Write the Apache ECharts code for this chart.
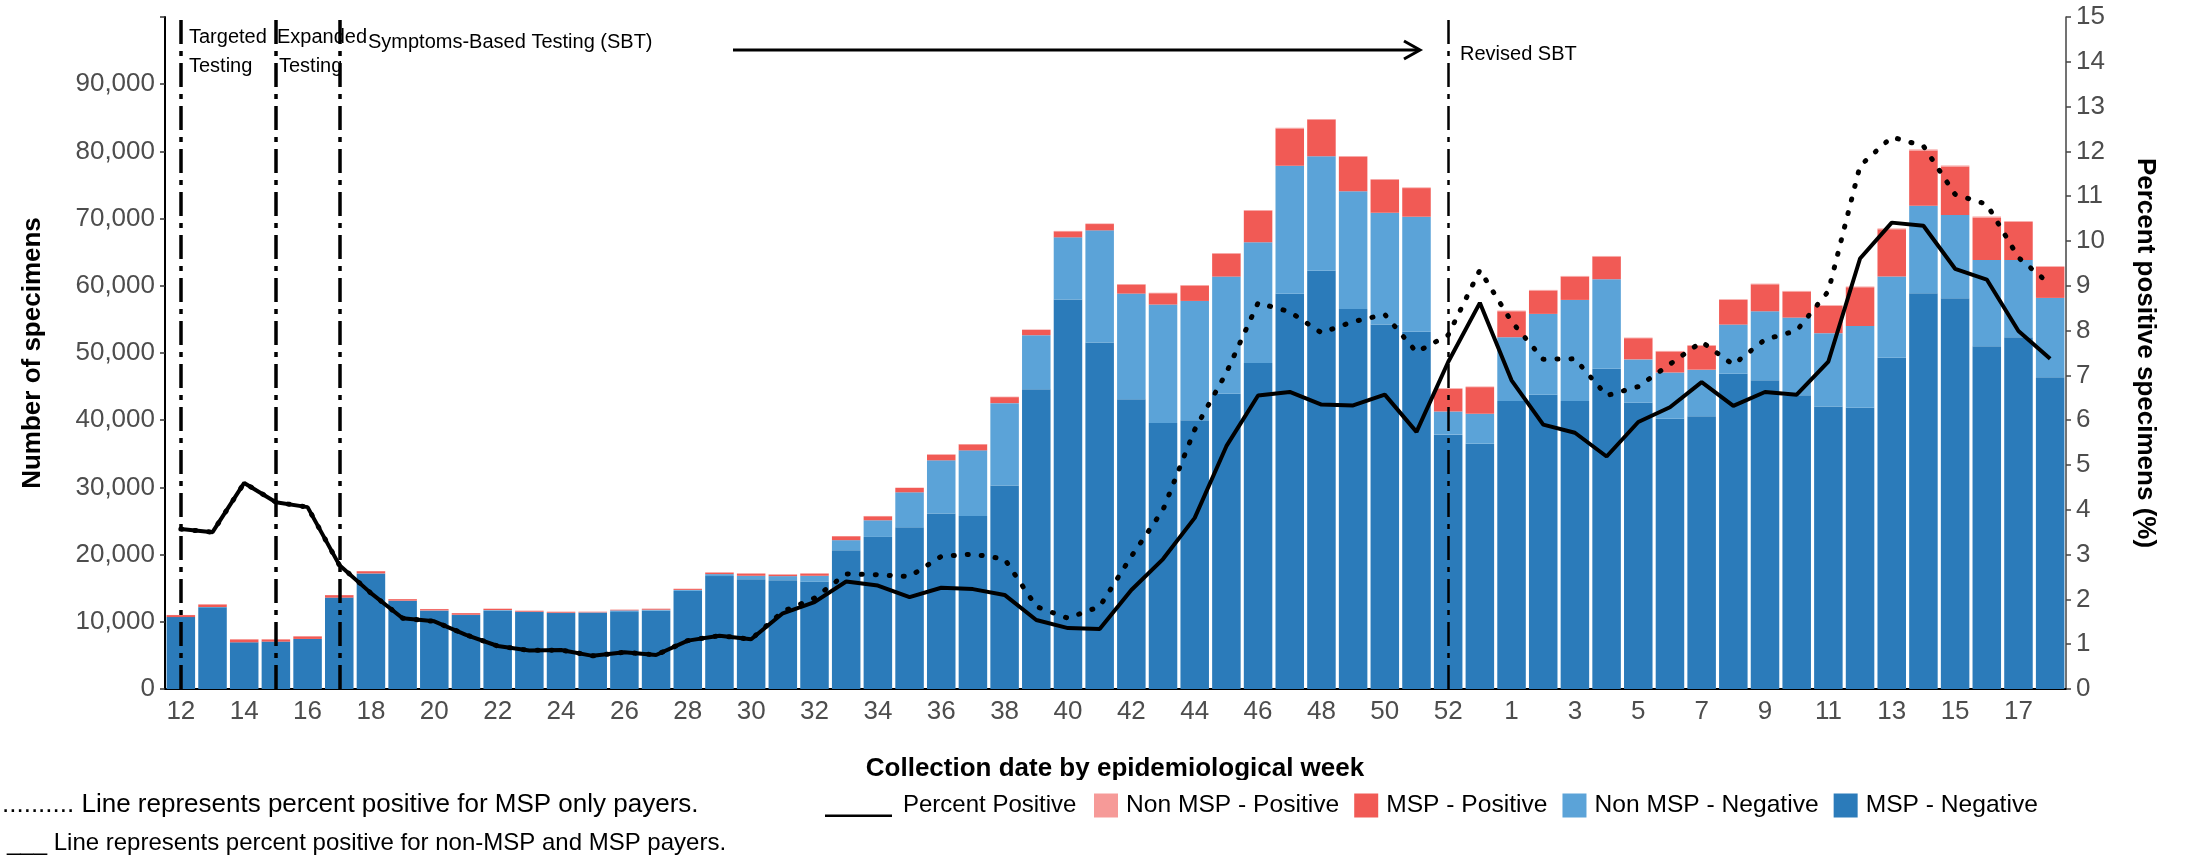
<!DOCTYPE html>
<html>
<head>
<meta charset="utf-8">
<script src="https://cdn.jsdelivr.net/npm/echarts@6/dist/echarts.min.js"></script>
<style>
  html, body { margin: 0; padding: 0; background: #fff; }
  #chart { width: 2185px; height: 860px; }
</style>
</head>
<body>
<div id="chart"></div>
<script>
// epi weeks: 2020 wk12..wk53, then 2021 wk1..wk18
const weeks2020 = [12, 13, 14, 15, 16, 17, 18, 19, 20, 21, 22, 23, 24, 25, 26, 27, 28, 29, 30, 31,
  32, 33, 34, 35, 36, 37, 38, 39, 40, 41, 42, 43, 44, 45, 46, 47, 48, 49, 50, 51, 52, 53];
const weeks2021 = [1, 2, 3, 4, 5, 6, 7, 8, 9, 10, 11, 12, 13, 14, 15, 16, 17, 18];

// stacked bars (number of specimens)
const mspNegative = [10700, 12150, 6950, 7050, 7450, 13600, 17200, 13100, 11650, 11000,
  11700, 11450, 11300, 11350, 11450, 11700, 14600, 16800, 16350, 16200,
  15950, 20650, 22630, 24070, 26100, 25750, 30300, 44600, 57950, 51550,
  43100, 39600, 40000, 43950, 48500, 58800, 62250, 56550, 54250, 53150,
  37850, 36500, 42850, 43800, 42850, 47650, 42600, 40200, 40600, 46900,
  45950, 43700, 42050, 41850, 49300, 58900, 58150, 51000, 52350, 46400];
const nonMspNegative = [0, 50, 0, 0, 0, 0, 0, 50, 50, 50,
  50, 50, 50, 50, 250, 100, 150, 300, 500, 600,
  900, 1500, 2480, 5200, 7930, 9760, 12240, 8050, 9260, 16700,
  15740, 17610, 17750, 17420, 17970, 19060, 17040, 17510, 16620, 17130,
  3450, 4460, 9500, 12020, 15050, 13330, 6450, 6900, 6920, 7330,
  10260, 11570, 10900, 12180, 12070, 13020, 12370, 12840, 11490, 11800];
const mspPositive = [300, 380, 430, 330, 380, 370, 330, 220, 190, 240,
  190, 140, 140, 90, 90, 140, 150, 230, 330, 230,
  330, 580, 590, 640, 840, 890, 890, 790, 890, 940,
  1340, 1680, 2280, 3410, 4700, 5540, 5410, 5140, 4910, 4260,
  3370, 3960, 3860, 3470, 3470, 3360, 3150, 3120, 3560, 3670,
  4010, 3870, 4060, 5750, 7030, 8220, 7240, 6340, 5650, 4600];
const nonMspPositive = [20, 20, 20, 20, 20, 20, 30, 20, 20, 20,
  20, 20, 20, 20, 30, 20, 30, 30, 30, 30,
  40, 40, 50, 60, 60, 60, 70, 60, 70, 80,
  80, 80, 90, 100, 110, 120, 120, 110, 110, 100,
  90, 90, 100, 100, 100, 100, 90, 90, 90, 100,
  100, 100, 100, 110, 130, 150, 140, 130, 120, 110];

// percent positive (right axis)
const pctAll = [3.57, 3.50, 4.60, 4.17, 4.06, 2.77, 2.14, 1.58, 1.51, 1.21,
  0.96, 0.86, 0.87, 0.74, 0.82, 0.76, 1.08, 1.19, 1.11, 1.69,
  1.94, 2.40, 2.31, 2.05, 2.26, 2.23, 2.10, 1.54, 1.36, 1.34,
  2.21, 2.90, 3.82, 5.42, 6.55, 6.63, 6.35, 6.33, 6.57, 5.74,
  7.30, 8.62, 6.89, 5.90, 5.72, 5.19, 5.96, 6.29, 6.85, 6.32,
  6.63, 6.57, 7.31, 9.61, 10.41, 10.34, 9.38, 9.14, 7.99, 7.37];
const pctMspOnly = [3.57, 3.50, 4.60, 4.17, 4.06, 2.77, 2.14, 1.58, 1.51, 1.21,
  0.96, 0.86, 0.87, 0.74, 0.82, 0.76, 1.08, 1.19, 1.11, 1.73,
  2.03, 2.57, 2.55, 2.51, 2.96, 3.01, 2.90, 1.84, 1.58, 1.84,
  2.96, 4.00, 5.79, 7.06, 8.62, 8.42, 7.95, 8.20, 8.36, 7.52,
  7.90, 9.35, 8.20, 7.36, 7.37, 6.55, 6.75, 7.25, 7.75, 7.24,
  7.80, 8.00, 8.88, 11.68, 12.32, 12.12, 11.04, 10.82, 9.63, 9.03];

// testing phases (start week index)
const phaseLines = [
  { idx: 0, width: 3.5 },   // Targeted Testing, wk12
  { idx: 3, width: 3.5 },   // Expanded Testing, wk15
  { idx: 5, width: 3.5 },   // SBT, wk17
  { idx: 40, width: 2.5 }   // Revised SBT, wk52
];

const categories = weeks2020.map(w => '2020-' + w).concat(weeks2021.map(w => '2021-' + w));

const FONT = '"Liberation Sans", Arial, sans-serif';
const C_DARK = '#2b7bba';
const C_LIGHT = '#5ba3d8';
const C_RED = '#f15a55';
const C_PINK = '#f69a98';

let chart = echarts.init(document.getElementById('chart'));

function barSeries(name, data, color) {
  return {
    name: name,
    type: 'bar',
    stack: 'total',
    data: data,
    barCategoryGap: '10%',
    itemStyle: { color: color },
    emphasis: { disabled: true }
  };
}

const option = {
  animation: false,
  backgroundColor: '#fff',
  textStyle: { fontFamily: FONT },
  grid: { left: 165, right: 119, top: 17, bottom: 171, containLabel: false },
  legend: [
    {
      data: [{ name: 'Percent Positive', icon: 'path://M0,0 M0,21.5 L67,21.5 L67,24 L0,24 Z' }],
      left: 825, top: 793, padding: 0,
      itemWidth: 67, itemHeight: 24,
      selectedMode: false,
      textStyle: { fontSize: 24, color: '#000', fontFamily: FONT, padding: [0, 0, 0, 6] }
    },
    {
      data: ['Non MSP - Positive', 'MSP - Positive', 'Non MSP - Negative', 'MSP - Negative'],
      left: 1094, top: 793, padding: 0,
      icon: 'rect', itemWidth: 24, itemHeight: 24, itemGap: 15,
      selectedMode: false,
      textStyle: { fontSize: 24.6, color: '#000', fontFamily: FONT, padding: [0, 0, 0, 3] }
    }
  ],
  xAxis: {
    type: 'category',
    data: categories,
    boundaryGap: true,
    axisLine: { lineStyle: { color: '#000', width: 2 } },
    axisTick: { interval: 0, alignWithLabel: true, length: 6, lineStyle: { color: '#333', width: 1.5 } },
    axisLabel: {
      interval: 1, margin: 10, fontSize: 26, color: '#4d4d4d', fontFamily: FONT,
      formatter: v => v.split('-')[1]
    },
    splitLine: { show: false }
  },
  yAxis: [
    {
      type: 'value', min: 0, max: 100000, interval: 10000,
      axisLine: { show: true, lineStyle: { color: '#000', width: 2 } },
      axisTick: { show: true, length: 5, lineStyle: { color: '#333', width: 1.5 } },
      axisLabel: {
        margin: 10, fontSize: 26, color: '#4d4d4d', fontFamily: FONT,
        formatter: v => (v >= 100000 ? '' : v.toLocaleString('en-US'))
      },
      splitLine: { show: false }
    },
    {
      type: 'value', min: 0, max: 15, interval: 1, position: 'right',
      axisLine: { show: true, lineStyle: { color: '#444', width: 1.5 } },
      axisTick: { show: true, length: 5, lineStyle: { color: '#444', width: 1.5 } },
      axisLabel: { margin: 10, fontSize: 26, color: '#4d4d4d', fontFamily: FONT },
      splitLine: { show: false }
    }
  ],
  series: [
    barSeries('MSP - Negative', mspNegative, C_DARK),
    barSeries('Non MSP - Negative', nonMspNegative, C_LIGHT),
    barSeries('MSP - Positive', mspPositive, C_RED),
    barSeries('Non MSP - Positive', nonMspPositive, C_PINK),
    {
      name: 'MSP only',
      type: 'line',
      yAxisIndex: 1,
      data: pctMspOnly,
      showSymbol: false,
      z: 5,
      lineStyle: { color: '#000', width: 5, type: [1, 13], cap: 'round' },
      itemStyle: { color: '#000' },
      emphasis: { disabled: true }
    },
    {
      name: 'Percent Positive',
      type: 'line',
      yAxisIndex: 1,
      data: pctAll,
      showSymbol: false,
      z: 6,
      lineStyle: { color: '#000', width: 4 },
      itemStyle: { color: '#000' },
      emphasis: { disabled: true },
      markLine: {
        silent: true,
        symbol: 'none',
        label: { show: false },
        data: phaseLines.map(p => ({
          xAxis: categories[p.idx],
          lineStyle: { color: '#000', width: p.width, type: [24, 7, 5, 7] }
        }))
      }
    }
  ],
  graphic: [
    // axis titles
    { type: 'text', x: 33, y: 353, rotation: Math.PI / 2, z: 50,
      style: { text: 'Number of specimens', fontSize: 26, fontWeight: 'bold', fontFamily: FONT,
        fill: '#000', textAlign: 'center', textVerticalAlign: 'middle' } },
    { type: 'text', x: 2145, y: 353, rotation: -Math.PI / 2, z: 50,
      style: { text: 'Percent positive specimens (%)', fontSize: 26, fontWeight: 'bold', fontFamily: FONT,
        fill: '#000', textAlign: 'center', textVerticalAlign: 'middle' } },
    { type: 'text', x: 1115, y: 769, z: 50,
      style: { text: 'Collection date by epidemiological week', fontSize: 26, fontWeight: 'bold', fontFamily: FONT,
        fill: '#000', textAlign: 'center', textVerticalAlign: 'middle' } },
    // the legend box clips the bottom of the x title in the original
    { type: 'rect', z: 60, shape: { x: 840, y: 780, width: 560, height: 10 }, style: { fill: '#fff' } },

    // phase labels
    { type: 'text', x: 189, y: 37, z: 50, style: { text: 'Targeted', fontSize: 20, fontFamily: FONT, fill: '#000', textVerticalAlign: 'middle' } },
    { type: 'text', x: 189, y: 66, z: 50, style: { text: 'Testing', fontSize: 20, fontFamily: FONT, fill: '#000', textVerticalAlign: 'middle' } },
    { type: 'text', x: 277, y: 37, z: 50, style: { text: 'Expanded', fontSize: 20, fontFamily: FONT, fill: '#000', textVerticalAlign: 'middle' } },
    { type: 'text', x: 279, y: 66, z: 50, style: { text: 'Testing', fontSize: 20, fontFamily: FONT, fill: '#000', textVerticalAlign: 'middle' } },
    { type: 'text', x: 368, y: 42, z: 50, style: { text: 'Symptoms-Based Testing (SBT)', fontSize: 20, fontFamily: FONT, fill: '#000', textVerticalAlign: 'middle' } },
    { type: 'text', x: 1460, y: 54, z: 50, style: { text: 'Revised SBT', fontSize: 20, fontFamily: FONT, fill: '#000', textVerticalAlign: 'middle' } },
    // arrow
    { type: 'polyline', z: 50, shape: { points: [[733, 50], [1419, 50]] }, style: { stroke: '#000', lineWidth: 3, fill: null } },
    { type: 'polyline', z: 50, shape: { points: [[1404, 41], [1420, 50], [1404, 59]] }, style: { stroke: '#000', lineWidth: 3, fill: null } },

    // footnotes
    { type: 'text', x: 2, y: 805, z: 50,
      style: { text: '.......... Line represents percent positive for MSP only payers.', fontSize: 26, fontFamily: FONT, fill: '#000', textVerticalAlign: 'middle' } },
    { type: 'text', x: 7, y: 843, z: 50,
      style: { text: '___ Line represents percent positive for non-MSP and MSP payers.', fontSize: 24, fontFamily: FONT, fill: '#000', textVerticalAlign: 'middle' } }
  ]
};

chart.setOption(option);
</script>
</body>
</html>
